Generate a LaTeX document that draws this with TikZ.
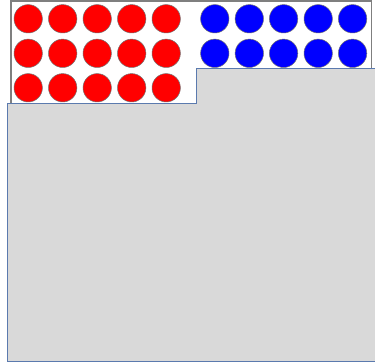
\documentclass[tikz,border=0pt]{standalone}
\definecolor{panelgray}{HTML}{D9D9D9}
\definecolor{panelline}{HTML}{5B7AAE}
\definecolor{boxline}{HTML}{7F7F7F}
\definecolor{redball}{HTML}{FF0000}
\definecolor{blueball}{HTML}{0000FF}
\tikzset{
  ball/.style={circle, inner sep=0pt, minimum size=28.4pt, draw=black!55, line width=0.5pt},
  redb/.style={ball, fill=redball},
  blueb/.style={ball, fill=blueball},
}
\begin{document}
\begin{tikzpicture}[x=1pt,y=-1pt]
\useasboundingbox (0,0) rectangle (375,363);
% white box
\draw[boxline, line width=1.3pt, fill=white] (11,1) rectangle (371.5,110);
% red balls
\foreach \r/\y in {1/18.8,2/53.3,3/87.8}{
  \foreach \c/\x in {1/28.2,2/62.7,3/97.2,4/131.7,5/166.2}{
    \node[redb] (r\r c\c) at (\x,\y) {};
  }
}
% blue balls
\foreach \r/\y in {1/18.8,2/53.3}{
  \foreach \c/\x in {1/214.8,2/249.3,3/283.6,4/318.2,5/352.6}{
    \node[blueb] (b\r c\c) at (\x,\y) {};
  }
}
% gray panel
\fill[panelgray] (377,69) -- (196,69) -- (196,104) -- (7.5,104) -- (7.5,362) -- (377,362) -- cycle;
\draw[panelline, line width=1pt] (377,69) -- (196,69) -- (196,104) -- (7.5,104) -- (7.5,362) -- (377,362);
\end{tikzpicture}
\end{document}
